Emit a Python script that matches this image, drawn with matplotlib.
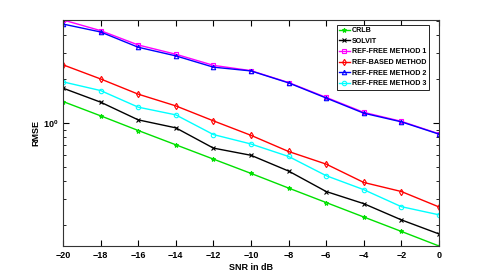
#!/usr/bin/env python3

import matplotlib
matplotlib.use("Agg")
import matplotlib.pyplot as plt

plt.rcParams['font.family'] = ['Liberation Sans', 'DejaVu Sans']

snr = [-20, -18, -16, -14, -12, -10, -8, -6, -4, -2, 0]

crlb = [1.40, 1.117, 0.886, 0.707, 0.564, 0.450, 0.357, 0.284, 0.226, 0.180, 0.143]
solvit = [1.729, 1.386, 1.048, 0.924, 0.671, 0.599, 0.467, 0.338, 0.279, 0.216, 0.173]
ref_free_1 = [5.08, 4.29, 3.42, 2.955, 2.48, 2.28, 1.89, 1.495, 1.18, 1.024, 0.841]
ref_based = [2.50, 2.00, 1.573, 1.307, 1.032, 0.821, 0.636, 0.521, 0.390, 0.338, 0.265]
ref_free_2 = [4.76, 4.20, 3.30, 2.88, 2.41, 2.27, 1.88, 1.48, 1.165, 1.016, 0.837]
ref_free_3 = [1.91, 1.665, 1.281, 1.134, 0.831, 0.716, 0.588, 0.434, 0.348, 0.266, 0.234]

series = [
    ("CRLB", crlb, '#00e000', '*'),
    ("SOLVIT", solvit, 'k', 'x'),
    ("REF-FREE METHOD 1", ref_free_1, '#ff00ff', 's'),
    ("REF-BASED METHOD", ref_based, '#ff0000', 'd'),
    ("REF-FREE METHOD 2", ref_free_2, '#0000ff', '^'),
    ("REF-FREE METHOD 3", ref_free_3, '#00ffff', 'o'),
]

fig = plt.figure(figsize=(4.85, 2.77), dpi=100)
ax = fig.add_axes([0.13, 0.112, 0.775, 0.816])

for label, y, color, marker in series:
    ax.plot(snr, y, color=color, marker=marker, markersize=3.2, lw=1,
            fillstyle='none', markeredgewidth=0.8, label=label)

ax.set_yscale('log')
all_vals = crlb + solvit + ref_free_1 + ref_based + ref_free_2 + ref_free_3
ax.set_ylim(min(all_vals), max(all_vals))
ax.set_xlim(-20, 0)
ax.set_xticks(snr)

ax.tick_params(which='both', direction='in', top=True, right=True, labelsize=6.5)
ax.tick_params(which='major', length=4)
ax.tick_params(which='minor', length=2)
for lbl in ax.get_xticklabels() + ax.get_yticklabels():
    lbl.set_fontweight('bold')
for sp in ax.spines.values():
    sp.set_color('#333333')

ax.set_xlabel("SNR in dB", fontsize=6.5, fontweight='bold', labelpad=2)
ax.set_ylabel("RMSE", fontsize=6.5, fontweight='bold', labelpad=2)

leg = ax.legend(loc='upper right', bbox_to_anchor=(0.973, 0.978), fancybox=False,
                edgecolor='k', framealpha=1, handlelength=1.5, handletextpad=0.3,
                borderpad=0.35, labelspacing=0.5, borderaxespad=0,
                prop={'size': 5.1, 'weight': 'bold'})
leg.get_frame().set_linewidth(0.6)

fig.savefig("out.png", dpi=100)
